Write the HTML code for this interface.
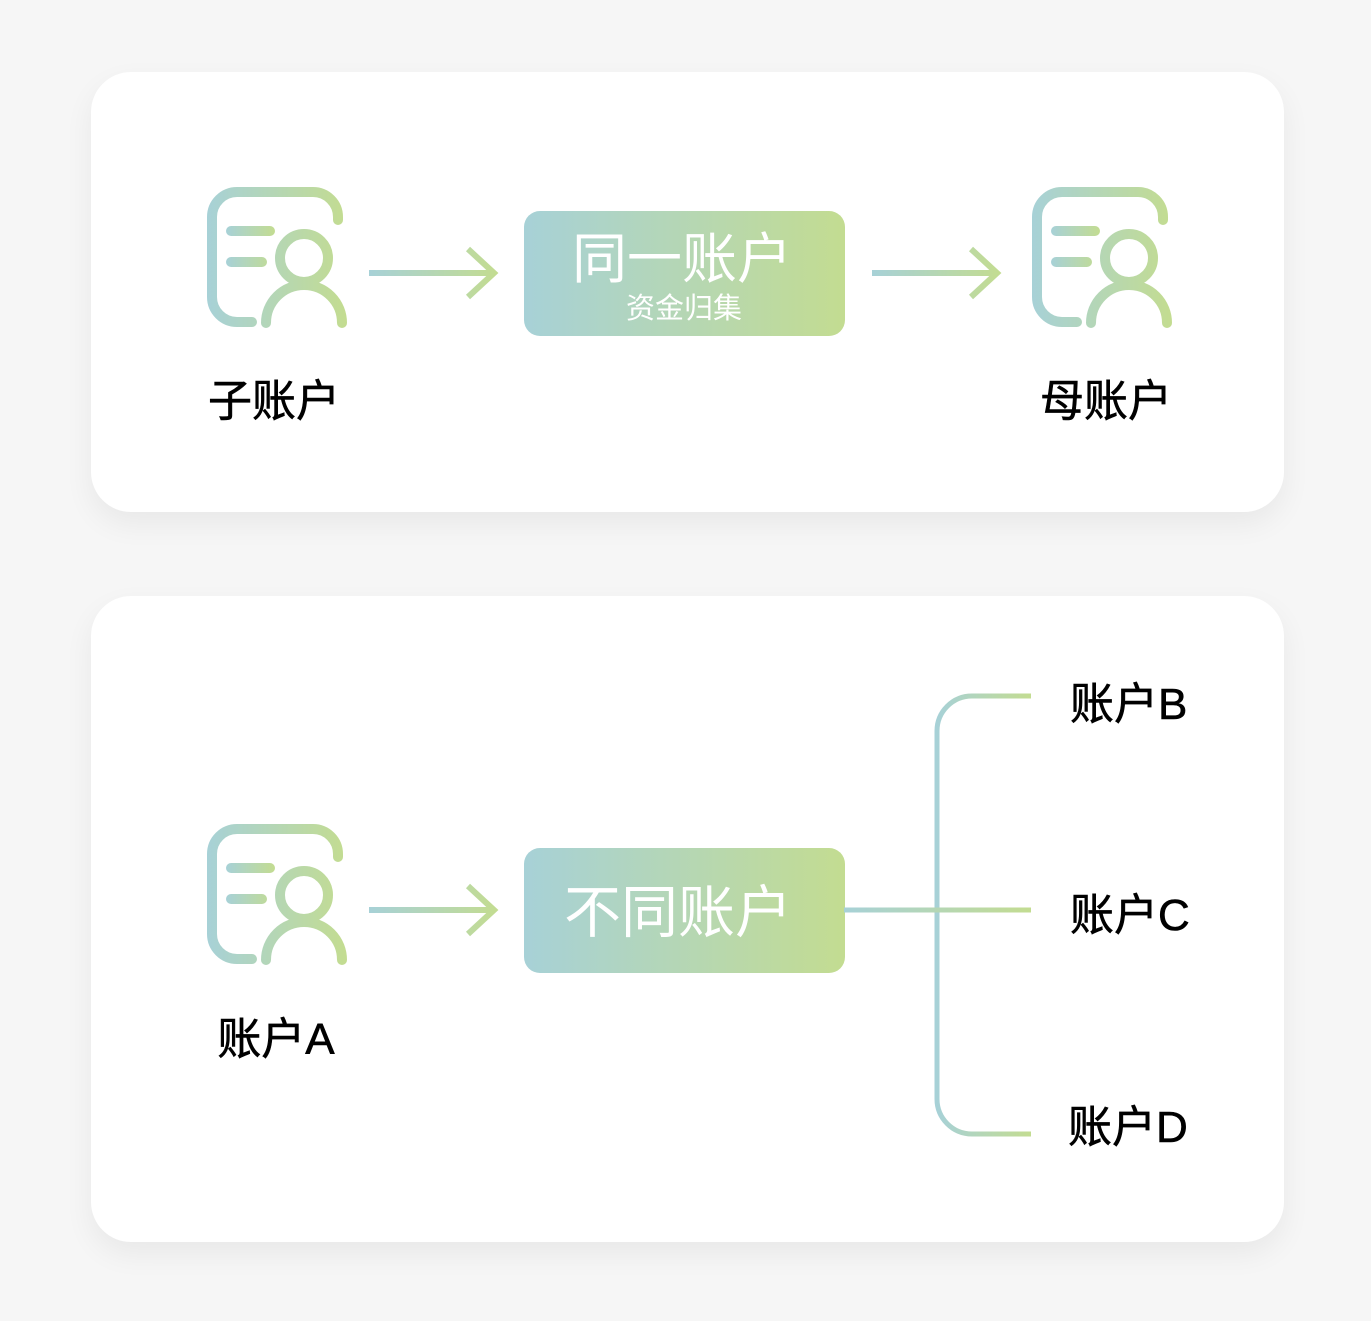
<!DOCTYPE html>
<html><head><meta charset="utf-8"><style>
html,body{margin:0;padding:0;background:#f6f6f6;}
body{width:1371px;height:1321px;position:relative;overflow:hidden;font-family:"Liberation Sans","Noto Sans CJK SC",sans-serif;}
.card{position:absolute;left:91px;width:1193px;background:#fff;border-radius:40px;box-shadow:0 12px 30px rgba(0,0,0,0.06);}
svg{position:absolute;left:0;top:0;}
</style></head><body>
<div class="card" style="top:72px;height:440px"></div>
<div class="card" style="top:596px;height:646px"></div>
<svg width="1371" height="1321" viewBox="0 0 1371 1321">
<defs>
<linearGradient id="gi" gradientUnits="userSpaceOnUse" x1="207" y1="0" x2="345" y2="0"><stop offset="0" stop-color="#a7d1d7"/><stop offset="1" stop-color="#c3dc91"/></linearGradient>
<linearGradient id="gl" gradientUnits="userSpaceOnUse" x1="226" y1="0" x2="275" y2="0"><stop offset="0" stop-color="#a7d1d7"/><stop offset="1" stop-color="#c3dc91"/></linearGradient>
<linearGradient id="ga" gradientUnits="userSpaceOnUse" x1="369" y1="0" x2="497" y2="0"><stop offset="0" stop-color="#a7d1d7"/><stop offset="1" stop-color="#c3dc91"/></linearGradient>
<linearGradient id="gb" x1="0" y1="0" x2="1" y2="0"><stop offset="0" stop-color="#a7d1d7"/><stop offset="1" stop-color="#c3dc91"/></linearGradient>
<linearGradient id="gh" gradientUnits="userSpaceOnUse" x1="937" y1="0" x2="1031" y2="0"><stop offset="0" stop-color="#a7d1d7"/><stop offset="1" stop-color="#c3dc91"/></linearGradient>
<linearGradient id="gm" gradientUnits="userSpaceOnUse" x1="844" y1="0" x2="1031" y2="0"><stop offset="0" stop-color="#a7d1d7"/><stop offset="1" stop-color="#c3dc91"/></linearGradient>
<g id="icon" fill="none" stroke-linecap="round" stroke-width="10">
<path d="M252,322 H237 A25,25 0 0 1 212,297 V217 A25,25 0 0 1 237,192 H313 A25,25 0 0 1 338,217 V220" stroke="url(#gi)"/>
<path d="M231,231 H270 M231,262 H262" stroke="url(#gl)"/>
<circle cx="304" cy="258" r="24" stroke="url(#gi)"/>
<path d="M266,323 A38,38 0 0 1 342,323" stroke="url(#gi)"/>
</g>
<g id="arrow" fill="none" stroke="url(#ga)" stroke-width="6">
<path d="M369,273 H494"/>
<path d="M468,249 L494,273 L468,297"/>
</g>
</defs>
<use href="#icon"/>
<use href="#arrow"/>
<use href="#icon" transform="translate(825,0)"/>
<use href="#arrow" transform="translate(503,0)"/>
<use href="#icon" transform="translate(0,637)"/>
<use href="#arrow" transform="translate(0,637)"/>
<rect x="524" y="211" width="321" height="125" rx="16" fill="url(#gb)"/>
<rect x="524" y="848" width="321" height="125" rx="16" fill="url(#gb)"/>
<text x="682" y="278" text-anchor="middle" fill="#fff" font-size="55" font-family="Liberation Sans,Noto Sans CJK SC,sans-serif">同一账户</text>
<text x="684" y="318" text-anchor="middle" fill="#fff" font-size="29" font-family="Liberation Sans,Noto Sans CJK SC,sans-serif">资金归集</text>
<text x="678" y="932" text-anchor="middle" fill="#fff" font-size="57" font-family="Liberation Sans,Noto Sans CJK SC,sans-serif">不同账户</text>
<g fill="none" stroke-width="5">
<path d="M1031,696 H972 A35,35 0 0 0 937,731 V1099 A35,35 0 0 0 972,1134 H1031" stroke="url(#gh)"/>
<path d="M844,910 H1031" stroke="url(#gm)"/>
</g>
<g fill="#000" stroke="#000" stroke-width="0.6" font-size="44" font-family="Liberation Sans,Noto Sans CJK SC,sans-serif">
<text x="274" y="416" text-anchor="middle">子账户</text>
<text x="1106" y="416" text-anchor="middle">母账户</text>
<text x="276" y="1054" text-anchor="middle">账户A</text>
<text x="1070" y="719">账户B</text>
<text x="1070" y="930">账户C</text>
<text x="1068" y="1142">账户D</text>
</g>
</svg>
</body></html>
